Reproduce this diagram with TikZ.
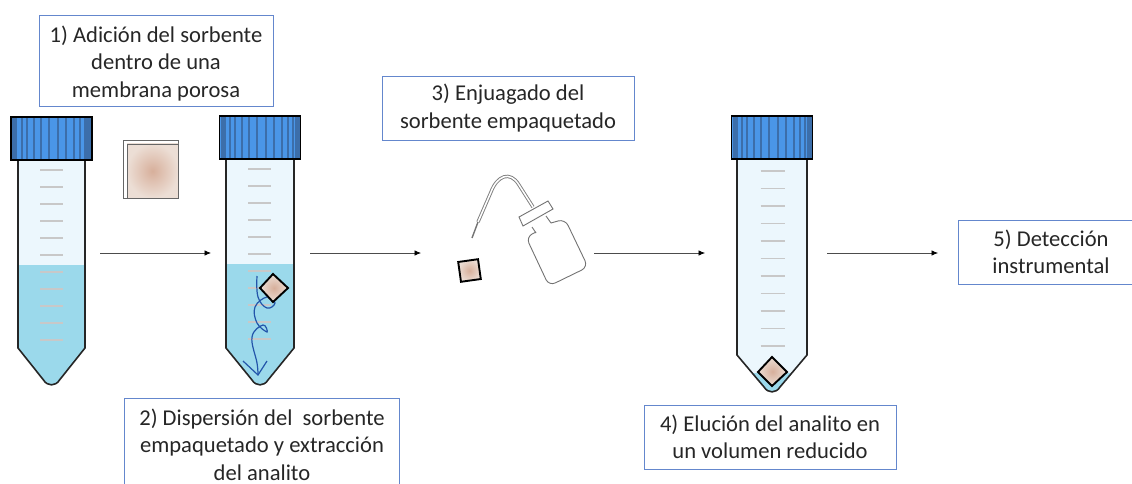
\documentclass[tikz,border=0pt]{standalone}
\usepackage{fontspec}
\setmainfont{Carlito}
\usetikzlibrary{arrows.meta}
\definecolor{boxblue}{RGB}{100,135,205}
\definecolor{capblue}{RGB}{74,150,232}
\definecolor{capdark}{RGB}{60,110,170}
\definecolor{tubefill}{RGB}{236,247,253}
\definecolor{water}{RGB}{155,217,235}
\definecolor{grad}{RGB}{200,200,200}
\definecolor{squarec}{RGB}{215,175,155}
\definecolor{squareo}{RGB}{236,222,213}
\definecolor{swirl}{RGB}{35,85,170}
\tikzset{
  x=1pt,y=-1pt,
  lbl/.style={draw=boxblue,line width=0.8pt,align=center,font=\fontsize{22.6}{27.5}\selectfont,text=black!85,inner sep=0pt},
  lbltext/.style={align=center,font=\fontsize{22.6}{27.5}\selectfont,text=black!85,inner sep=0pt},
  boxline/.style={draw=boxblue,line width=0.8pt},
  flow/.style={draw=black!70,line width=0.7pt,-{Latex[length=6.5pt,width=5.5pt,black]}},
  packet/.style={draw=black,line width=1.9pt,inner color=squarec,outer color=squareo},
  gradline/.style={grad,line width=1.5pt},
  tubeline/.style={black!85,line width=1.6pt},
}
% #1 center x, #2 half width, #3 top y, #4 shoulder y
\newcommand{\tubeshape}[4]{(#1-#2,#3) -- (#1-#2,#4) -- (#1-8,#4+32) .. controls (#1-4,#4+38.5) and (#1+4,#4+38.5) .. (#1+8,#4+32) -- (#1+#2,#4) -- (#1+#2,#3)}
\newcommand{\capbody}[2]{%
  \fill[capblue] (#1-40.5,#2) rectangle (#1+40.5,#2+43);
  \foreach \dx/\w in {-37/5,-30/2,-25/2,-18/2,-11/2,-3/2,6/2,14/2,22/2,28/2,33/2,37/5}
    \fill[capdark] (#1+\dx-\w/2,#2) rectangle (#1+\dx+\w/2,#2+43);
  \draw[black,line width=1.8pt] (#1-40.5,#2) rectangle (#1+40.5,#2+43);
}
\begin{document}
\begin{tikzpicture}
\useasboundingbox (0,0) rectangle (1132,484);
% Tube 1
\fill[tubefill] \tubeshape{51.5}{33.5}{160}{348} -- cycle;
\begin{scope}
\clip \tubeshape{51.5}{33.5}{160}{348} -- cycle;
\fill[water] (0,265) rectangle (110,400);
\end{scope}
\foreach \i in {0,...,10} \draw[gradline] (40,170+17*\i) -- (63,170+17*\i);
\draw[tubeline] \tubeshape{51.5}{33.5}{160}{348};
\capbody{51.5}{117}
% Tube 2
\fill[tubefill] \tubeshape{260}{34}{159}{348} -- cycle;
\begin{scope}
\clip \tubeshape{260}{34}{159}{348} -- cycle;
\fill[water] (200,264) rectangle (320,400);
\end{scope}
\foreach \i in {0,...,10} \draw[gradline] (248,169+17*\i) -- (271,169+17*\i);
\draw[tubeline] \tubeshape{260}{34}{159}{348};
\capbody{260}{116}
\draw[swirl,line width=1.2pt] plot[smooth,tension=0.7] coordinates {(257,276) (258,297) (267,308) (275,303) (267,297) (255,307) (257,323) (267,332) (263,325) (252,337) (257,363) (258,375)};
\draw[swirl,line width=1.2pt] (243,361) -- (258,375) -- (267,361);
\draw[packet] (260,288) -- (273,274) -- (288,288) -- (273,302) -- cycle;
% Tube 3
\fill[tubefill] \tubeshape{772}{35}{160}{355} -- cycle;
\begin{scope}
\clip \tubeshape{772}{35}{160}{355} -- cycle;
\fill[water] (720,373) rectangle (830,400);
\end{scope}
\foreach \i in {0,...,10} \draw[gradline] (760.5,171+17.5*\i) -- (784.5,171+17.5*\i);
\draw[tubeline] \tubeshape{772}{35}{160}{355};
\capbody{772}{116}
\draw[packet] (758,372) -- (772,357) -- (787,372) -- (772,386) -- cycle;
% Free sorbent square
\draw[black!60,line width=0.8pt,fill=white] (123,140) rectangle (178,198);
\draw[black!60,line width=0.8pt,inner color=squarec,outer color=squareo] (127,144) rectangle (178,198);
% Small packet
\draw[packet,rotate around={8:(469.5,270.5)}] (459.5,260.5) rectangle (479.5,280.5);
% Wash bottle
\draw[black!50,line width=3.4pt] (478,222) -- (491,192) .. controls (497,176) and (510,170) .. (519,185) -- (533,207);
\draw[white,line width=1.5pt] (478,222) -- (491,192) .. controls (497,176) and (510,170) .. (519,185) -- (533,207);
\draw[black!55,line width=1.4pt] (472,238) -- (478,222);
\draw[black!55,line width=0.9pt,rounded corners=7pt,fill=white] (536,232) -- (526,237) -- (549,286) -- (588,267) -- (565,219) -- (551,223);
\draw[black!55,line width=0.9pt] (532,227) -- (536,233) (546,216) -- (551,223);
\draw[black!55,line width=0.9pt,fill=white] (519,217) -- (548,201) -- (553,209) -- (523,226) -- cycle;
% Arrows
\coordinate (a1s) at (100,253); \coordinate (a1e) at (211,253);
\coordinate (a2s) at (310,253); \coordinate (a2e) at (421,253);
\coordinate (a3s) at (594,253); \coordinate (a3e) at (705,253);
\coordinate (a4s) at (827,253); \coordinate (a4e) at (938,253);
\draw[flow] (a1s) -- (a1e);
\draw[flow] (a2s) -- (a2e);
\draw[flow] (a3s) -- (a3e);
\draw[flow] (a4s) -- (a4e);
% Labels
\node[lbl,minimum width=234pt,minimum height=91pt,text depth=0pt] (l1) at (156,60.5) {\raisebox{-1.5pt}{1) Adición del sorbente}\\\raisebox{-1.5pt}{dentro de una}\\\raisebox{-1.5pt}{membrana porosa}};
\node[lbl,minimum width=252pt,minimum height=64pt] (l3) at (508,108) {3) Enjuagado del\\sorbente empaquetado};
\node[lbl,minimum width=252pt,minimum height=64pt] (l4) at (770,437) {4) Elución del analito en\\un volumen reducido};
\draw[boxline] (1132,220) -- (958,220) -- (958,284) -- (1132,284);
\node[lbltext] (l5) at (1051,252) {5) Detección\\instrumental};
\draw[boxline] (124.5,484) -- (124.5,398) -- (399,398) -- (399,484);
\node[lbltext] (l2) at (262,444.5) {2) Dispersión del\ \ sorbente\\empaquetado y extracción\\del analito};
\end{tikzpicture}
\end{document}
